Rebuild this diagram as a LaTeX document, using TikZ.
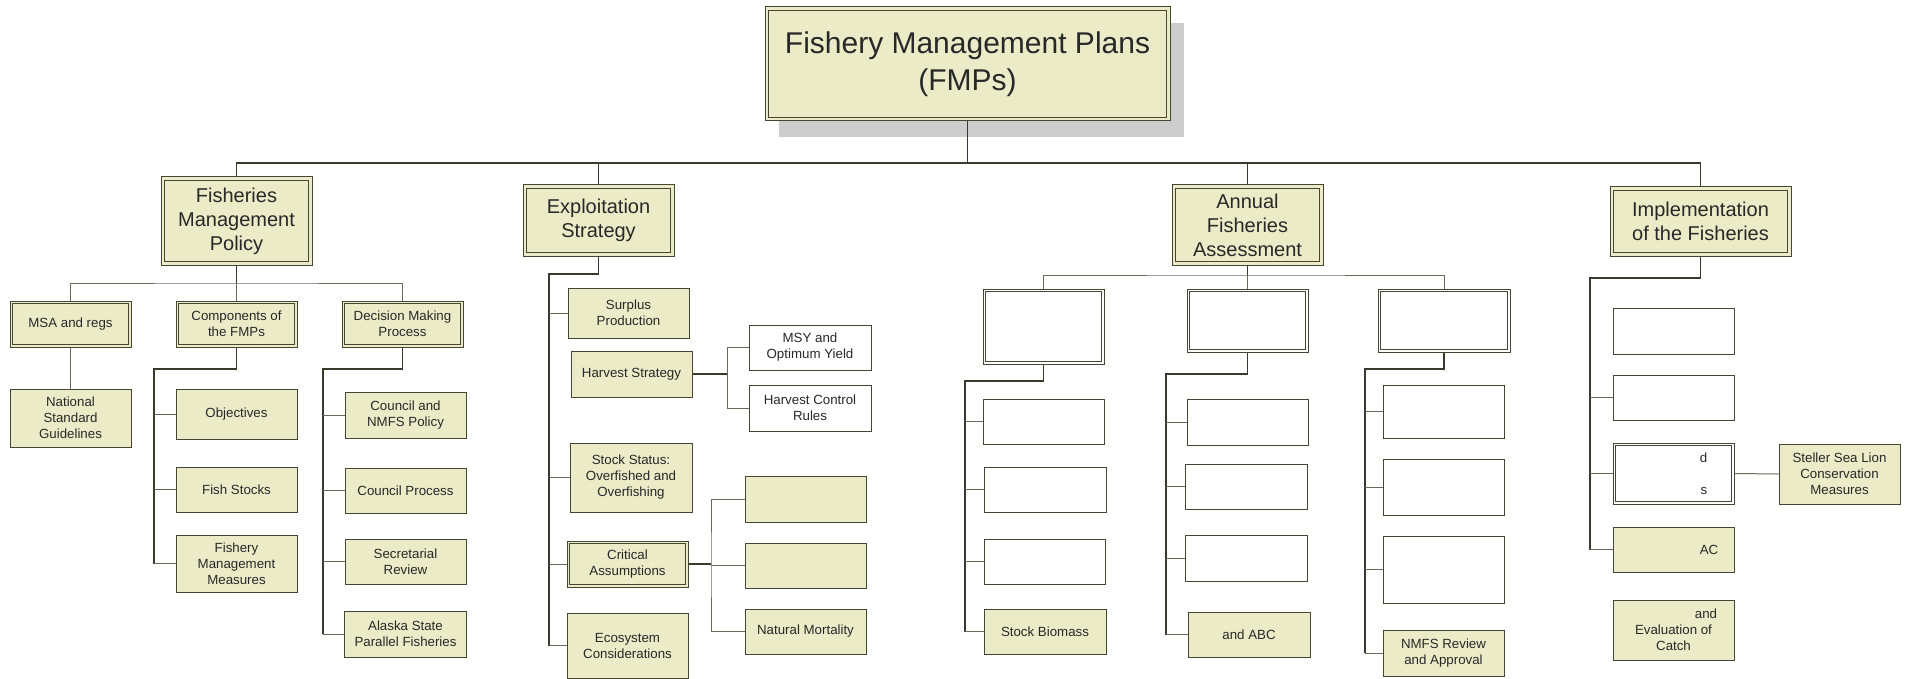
\documentclass[tikz,border=0pt]{standalone}
\usepackage{fontspec}
\setmainfont{Liberation Sans}
\usetikzlibrary{shadows}

\definecolor{boxfill}{RGB}{235,235,200}
\definecolor{boxline}{RGB}{70,70,52}
\definecolor{wireline}{RGB}{58,58,44}
\definecolor{stubline}{RGB}{105,105,90}
\definecolor{inktext}{RGB}{40,40,40}
\definecolor{shadegray}{RGB}{205,205,205}

\tikzset{
	unit/.style={draw=boxline, line width=1pt, inner sep=0pt, align=center, text=inktext, font=\fontsize{13.3}{16}\selectfont},
	dims/.style 2 args={minimum width=#1, minimum height=#2},
	olive/.style={unit, fill=boxfill},
	blank/.style={unit, fill=white},
	head/.style={olive, font=\fontsize{20}{24}\selectfont},
	insetline/.style={draw=boxline, line width=0.9pt},
	trunkwire/.style={draw=wireline, line width=1.5pt},
	stubwire/.style={draw=stubline, line width=1pt},
}

% stub from a trunk to the west side of a box
\newcommand{\twig}[2]{\draw[stubwire] (#1.west) -- (#1.west -| #2);}

\begin{document}
\begin{tikzpicture}[x=1pt, y=-1pt]
	\useasboundingbox (0,0) rectangle (1908,679);

	%% ROOT and top level
	\node[olive, dims={405}{114}, font=\fontsize{30}{37}\selectfont,
		drop shadow={shadow xshift=14pt, shadow yshift=-16pt, fill=shadegray, opacity=1}]
		(root) at (967.5,64) {Fishery Management Plans\\(FMPs)};

	\node[head, dims={151}{88}](fmp) at (236.5,221){Fisheries\\Management\\Policy};
	\node[head, dims={151}{71}](expl) at (598.5,220.5){Exploitation\\Strategy};
	\node[head, dims={151}{80}](annual) at (1247.5,225){Annual\\Fisheries\\Assessment};
	\node[head, dims={181}{69}](impl) at (1700.5,221.5){Implementation\\of the Fisheries};

	\coordinate (bus) at (967.5,163);
	\draw[trunkwire] (root.south) -- (bus);
	\draw[trunkwire] (fmp.north) |- (bus) -| (impl.north);
	\draw[trunkwire] (expl.north) -- (expl.north |- bus);
	\draw[trunkwire] (annual.north) -- (annual.north |- bus);

	%% FISHERIES MANAGEMENT POLICY
	\node[olive, dims={121}{46}](msa) at (70.5,324){MSA and regs};
	\node[olive, dims={121}{46}](comp) at (236.5,324){Components of\\the FMPs};
	\node[olive, dims={121}{46}](dmp) at (402.5,324){Decision Making\\Process};

	\coordinate (fmp_bus) at (236.5,283);
	\draw[trunkwire] (fmp.south) -- (fmp_bus);
	\draw[stubwire] (msa.north) |- (fmp_bus) -| (dmp.north);
	\draw[stubwire] (fmp_bus) -- (comp.north);

	\node[olive, dims={121}{58}](natstd) at (70.5,418){National\\Standard\\Guidelines};
	\draw[stubwire] (msa.south) -- (natstd.north);

	% components
	\node[olive, dims={121}{50}](obj) at (236.5,414){Objectives};
	\node[olive, dims={121}{45}](fishstk) at (236.5,489.5){Fish Stocks};
	\node[olive, dims={121}{57}](fishmeas) at (236.5,563.5){Fishery\\Management\\Measures};

	\coordinate (comp_t) at (154,369);
	\draw[trunkwire] (comp.south) |- (comp_t) -- (comp_t |- fishmeas.west);
	\twig{obj}{comp_t}
	\twig{fishstk}{comp_t}
	\twig{fishmeas}{comp_t}

	% decision making
	\node[olive, dims={121}{46}](council) at (405.5,415){Council and\\NMFS Policy};
	\node[olive, dims={121}{45}](cproc) at (405.5,490.5){Council Process};
	\node[olive, dims={121}{45}](secrev) at (405.5,561.5){Secretarial\\Review};
	\node[olive, dims={122}{46}](alaska) at (405.5,634){Alaska State\\Parallel Fisheries};

	\coordinate (dmp_t) at (323,369);
	\draw[trunkwire] (dmp.south) |- (dmp_t) -- (dmp_t |- alaska.west);
	\twig{council}{dmp_t}
	\twig{cproc}{dmp_t}
	\twig{secrev}{dmp_t}
	\twig{alaska}{dmp_t}

	%% EXPLOITATION STRATEGY
	\node[olive, dims={121}{50}](surplus) at (628.5,313){Surplus\\Production};
	\node[olive, dims={121}{46}](harvest) at (631.5,374){Harvest Strategy};
	\node[olive, dims={122}{69}](stock) at (631,477.5){Stock Status:\\Overfished and\\Overfishing};
	\node[olive, dims={121}{46}](crit) at (627.5,564){Critical\\Assumptions};
	\node[olive, dims={121}{65}](eco) at (627.5,645.5){Ecosystem\\Considerations};

	\coordinate (expl_t) at (549,274);
	\draw[trunkwire] (expl.south) |- (expl_t) -- (expl_t |- eco.west);
	\twig{surplus}{expl_t}
	\twig{stock}{expl_t}
	\twig{crit}{expl_t}
	\twig{eco}{expl_t}

	% harvest strategy
	\node[blank, dims={122}{45}](msy) at (810,347.5){MSY and\\Optimum Yield};
	\node[blank, dims={122}{46}](hcr) at (810,408){Harvest Control\\Rules};

	\coordinate (harv_t) at (727,374);
	\draw[trunkwire] (harvest.east) -- (harv_t);
	\draw[stubwire] (msy.west) -| (harv_t) |- (hcr.west);

	% critical assumptions
	\node[olive, dims={121}{46}](ca1) at (805.5,499){};
	\node[olive, dims={121}{45}](ca2) at (805.5,565.5){};
	\node[olive, dims={121}{45}](natmort) at (805.5,631.5){Natural Mortality};

	\coordinate (crit_t) at (711,564);
	\draw[trunkwire] (crit.east) -- (crit_t);
	\draw[stubwire] (ca1.west) -| (crit_t) |- (natmort.west);
	\twig{ca2}{crit_t}

	%% ANNUAL FISHERIES ASSESSMENT
	\node[blank, dims={121}{75}](boxA) at (1043.5,326.5){};
	\node[blank, dims={121}{63}](boxB) at (1247.5,320.5){};
	\node[blank, dims={132}{63}](boxC) at (1444,320.5){};

	\coordinate (ann_bus) at (1247.5,275);
	\draw[trunkwire] (annual.south) -- (ann_bus);
	\draw[stubwire] (boxA.north) |- (ann_bus) -| (boxC.north);
	\draw[stubwire] (ann_bus) -- (boxB.north);

	% first column
	\node[blank, dims={121}{45}](a1) at (1043.5,421.5){};
	\node[blank, dims={122}{45}](a2) at (1045,489.5){};
	\node[blank, dims={121}{45}](a3) at (1044.5,561.5){};
	\node[olive, dims={122}{45}](stockbio) at (1045,631.5){Stock Biomass};

	\coordinate (a_t) at (965,381);
	\draw[trunkwire] (boxA.south) |- (a_t) -- (a_t |- stockbio.west);
	\twig{a1}{a_t}
	\twig{a2}{a_t}
	\twig{a3}{a_t}
	\twig{stockbio}{a_t}

	% second column
	\node[blank, dims={121}{46}](b1) at (1247.5,422){};
	\node[blank, dims={122}{45}](b2) at (1246,486.5){};
	\node[blank, dims={122}{46}](b3) at (1246,558){};
	\node[olive, dims={122}{45}](abc) at (1249,634.5){and ABC};

	\coordinate (b_t) at (1166,374);
	\draw[trunkwire] (boxB.south) |- (b_t) -- (b_t |- abc.west);
	\twig{b1}{b_t}
	\twig{b2}{b_t}
	\twig{b3}{b_t}
	\twig{abc}{b_t}

	% third column
	\node[blank, dims={121}{53}](c1) at (1443.5,411.5){};
	\node[blank, dims={121}{56}](c2) at (1443.5,487){};
	\node[blank, dims={121}{67}](c3) at (1443.5,569.5){};
	\node[olive, dims={121}{46}](nmfs) at (1443.5,653){NMFS Review\\and Approval};

	\coordinate (c_t) at (1365,369);
	\draw[trunkwire] (boxC.south) |- (c_t) -- (c_t |- nmfs.west);
	\twig{c1}{c_t}
	\twig{c2}{c_t}
	\twig{c3}{c_t}
	\twig{nmfs}{c_t}

	%% IMPLEMENTATION OF THE FISHERIES
	\node[blank, dims={121}{46}](i1) at (1673.5,331){};
	\node[blank, dims={121}{45}](i2) at (1673.5,397.5){};
	\node[blank, dims={121}{61}](ids) at (1673.5,473.5){\hspace*{60pt}d\\[16pt]\hspace*{61pt}s};
	\node[olive, dims={121}{45}](ac) at (1673.5,549.5){\hspace*{71pt}AC};
	\node[olive, dims={121}{60}](evalc) at (1673.5,630){\hspace*{65pt}and\\Evaluation of\\Catch};
	\node[olive, dims={121}{60}](steller) at (1839.5,474){Steller Sea Lion\\Conservation\\Measures};

	\coordinate (impl_t) at (1590,278);
	\draw[trunkwire] (impl.south) |- (impl_t) -- (impl_t |- ac.west);
	\twig{i2}{impl_t}
	\twig{ids}{impl_t}
	\twig{ac}{impl_t}
	\draw[stubwire] (ids.east) -- (steller.west);

	% inner line of the double framed boxes
	\foreach \bx in {root,fmp,expl,annual,impl}
		\draw[insetline] ([shift={(4pt,-4pt)}]\bx.north west) rectangle ([shift={(-4pt,4pt)}]\bx.south east);
	\foreach \bx in {msa,comp,dmp,crit,boxA,boxB,boxC,ids}
		\draw[insetline] ([shift={(3pt,-3pt)}]\bx.north west) rectangle ([shift={(-3pt,3pt)}]\bx.south east);

\end{tikzpicture}
\end{document}
